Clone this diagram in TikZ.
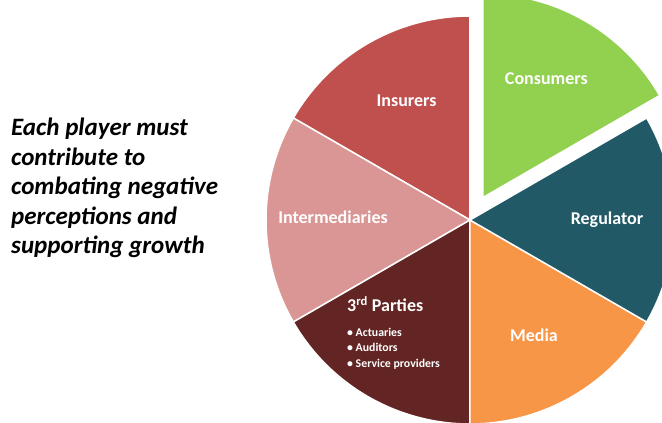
\documentclass[tikz,border=0pt]{standalone}
\usepackage{fontspec}
\setmainfont{Carlito}
\usepackage{tikz}
\usetikzlibrary{calc}

\definecolor{consumersgreen}{HTML}{92D050}
\definecolor{regulatorteal}{HTML}{215967}
\definecolor{mediaorange}{HTML}{F79646}
\definecolor{partiesmaroon}{HTML}{632523}
\definecolor{intermpink}{HTML}{D99694}
\definecolor{insurersred}{HTML}{C0504D}

\tikzset{
  slice/.style={draw=white, line width=1.5pt, line join=round},
  slicetext/.style={text=white, font=\bfseries\fontsize{18}{20}\selectfont},
  bullettext/.style={text=white, font=\bfseries\fontsize{11.8}{15.5}\selectfont},
}

\begin{document}
\begin{tikzpicture}[x=1pt,y=1pt]

  \useasboundingbox (-470,-203) rectangle (192,220);

  % Notable points
  \coordinate (Origin) at (0,0);
  \coordinate (Apex) at (60:26);

  % Slices, 60 degrees each; Consumers pulled out of the pie
  \draw[slice, fill=insurersred]    (Origin) -- (150:204) arc (150:90:204) -- cycle;
  \draw[slice, fill=intermpink]     (Origin) -- (210:204) arc (210:150:204) -- cycle;
  \draw[slice, fill=partiesmaroon]  (Origin) -- (270:204) arc (270:210:204) -- cycle;
  \draw[slice, fill=mediaorange]    (Origin) -- (330:204) arc (330:270:204) -- cycle;
  \draw[slice, fill=regulatorteal]  (Origin) -- (390:204) arc (390:330:204) -- cycle;
  \draw[slice, fill=consumersgreen] (Apex) -- ($(Apex)+(90:204)$) arc (90:30:204) -- cycle;

  % Slice names
  \node[slicetext] (consumers) at ($(Apex)+(62:135)$) {Consumers};
  \node[slicetext] (insurers) at (118:135) {Insurers};
  \node[slicetext] (intermediaries) at (179:137) {Intermediaries};
  \node[slicetext] (regulator) at (0:137) {Regulator};
  \node[slicetext] (media) at (-61:132) {Media};
  \node[slicetext, anchor=base west, inner sep=0pt] (parties) at (-123,-92)
    {3\textsuperscript{rd} Parties};
  \node[bullettext, anchor=north west, align=left, inner sep=0pt] (partylist) at (-123,-108)
    {\textbullet\ Actuaries\\
     \textbullet\ Auditors\\
     \textbullet\ Service providers};

  % Message on the left
  \node[anchor=north west, align=left, inner sep=0pt,
        font=\bfseries\itshape\fontsize{25}{29.5}\selectfont] (message) at (-459,102)
    {Each player must\\
     contribute to\\
     combating negative\\
     perceptions and\\
     supporting growth};

\end{tikzpicture}
\end{document}
